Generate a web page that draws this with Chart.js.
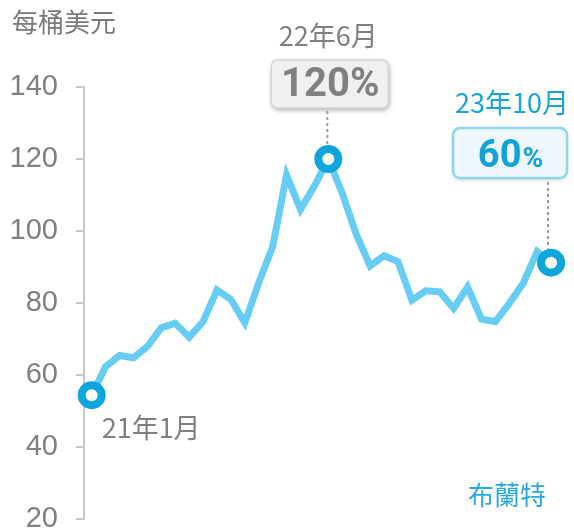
<!DOCTYPE html>
<html>
<head>
<meta charset="utf-8">
<script src="https://cdn.jsdelivr.net/npm/chart.js@4/dist/chart.umd.min.js"></script>
<style>
  html, body { margin: 0; padding: 0; background: #fff; overflow: hidden; }
  #wrap { width: 574px; height: 531px; position: relative; }
  canvas { display: block; }
</style>
</head>
<body>
<div id="wrap"><canvas id="brentChart" width="574" height="531"></canvas></div>
<script>
// Data ----------
var months = ["21年1月","21年2月","21年3月","21年4月","21年5月","21年6月","21年7月","21年8月","21年9月","21年10月","21年11月","21年12月",
              "22年1月","22年2月","22年3月","22年4月","22年5月","22年6月","22年7月","22年8月","22年9月","22年10月","22年11月","22年12月",
              "23年1月","23年2月","23年3月","23年4月","23年5月","23年6月","23年7月","23年8月","23年9月","23年10月"];
var brentPrices = [54.4, 62.3, 65.4, 64.8, 67.9, 73.1, 74.4, 70.5, 74.8, 83.6, 81.0, 74.5,
                   85.6, 95.6, 115.5, 106.0, 112.5, 120.0, 110.5, 99.1, 90.3, 93.1, 91.5, 80.8,
                   83.4, 83.1, 78.5, 84.4, 75.5, 74.8, 79.9, 85.5, 94.3, 91.2];
var yTicks = [20, 40, 60, 80, 100, 120, 140];
var highlightIdx = [0, 17, 33];
var peakText = "120%";
var lastText = "60";

var fontFamily = "'Liberation Sans', 'Noto Sans CJK TC', sans-serif";
var cjkFamily = "'Noto Sans CJK TC', 'Liberation Sans', sans-serif";

var points = brentPrices.map(function (v, i) { return { x: i, y: v }; });

// Annotation plugin ----------
var annotations = {
    id: 'annotations',
    afterDraw: function (chart) {
        var ctx = chart.ctx;
        var xs = chart.scales.x, ys = chart.scales.y;
        var px = function (i) { return xs.getPixelForValue(i); };
        var py = function (i) { return ys.getPixelForValue(brentPrices[i]); };

        ctx.save();
        ctx.textBaseline = 'middle';

        // unit label
        ctx.fillStyle = '#7a7a7a';
        ctx.textAlign = 'left';
        ctx.font = '26px ' + cjkFamily;
        ctx.fillText("每桶美元", 12, 22);

        // first point label
        ctx.fillStyle = '#808080';
        ctx.font = '27px ' + cjkFamily;
        ctx.textAlign = 'left';
        ctx.fillText(months[0], px(0) + 10, py(0) + 33);

        // peak label
        var pxPeak = px(17), pyPeak = py(17);
        ctx.textAlign = 'center';
        ctx.fillText(months[17], pxPeak, 36);

        // peak box
        ctx.save();
        ctx.shadowColor = 'rgba(0,0,0,0.35)';
        ctx.shadowBlur = 5;
        ctx.shadowOffsetX = 1;
        ctx.shadowOffsetY = 2;
        ctx.fillStyle = '#f0f0f0';
        ctx.beginPath();
        ctx.roundRect(pxPeak - 57, 60, 117, 48, 6);
        ctx.fill();
        ctx.restore();
        ctx.strokeStyle = '#d4d4d4';
        ctx.lineWidth = 1.5;
        ctx.beginPath();
        ctx.roundRect(pxPeak - 57, 60, 117, 48, 6);
        ctx.stroke();
        ctx.fillStyle = '#808080';
        ctx.font = 'bold 40px Roboto, ' + fontFamily;
        ctx.fillText(peakText, pxPeak + 2, 86);

        // peak dotted connector
        ctx.strokeStyle = '#9a9a9a';
        ctx.lineWidth = 2;
        ctx.setLineDash([3, 3]);
        ctx.beginPath();
        ctx.moveTo(pxPeak - 1, 111);
        ctx.lineTo(pxPeak - 1, pyPeak - 14);
        ctx.stroke();

        // last point connector
        var pxLast = px(33), pyLast = py(33);
        ctx.beginPath();
        ctx.moveTo(pxLast - 3, 182);
        ctx.lineTo(pxLast - 3, pyLast - 14);
        ctx.stroke();
        ctx.setLineDash([]);

        // last point label
        ctx.fillStyle = '#1aa3db';
        ctx.font = '27px ' + cjkFamily;
        ctx.fillText(months[33], 512, 103);

        // last box
        ctx.save();
        ctx.shadowColor = 'rgba(0,0,0,0.18)';
        ctx.shadowBlur = 4;
        ctx.shadowOffsetY = 2;
        ctx.fillStyle = '#eef8fc';
        ctx.beginPath();
        ctx.roundRect(453, 128, 114, 50, 7);
        ctx.fill();
        ctx.restore();
        ctx.strokeStyle = '#8ed6ef';
        ctx.lineWidth = 2.5;
        ctx.beginPath();
        ctx.roundRect(453, 128, 114, 50, 7);
        ctx.stroke();

        ctx.fillStyle = '#12a2da';
        ctx.textAlign = 'left';
        ctx.font = 'bold 38px Roboto, ' + fontFamily;
        var w60 = ctx.measureText(lastText).width;
        ctx.font = 'bold 28px Roboto, ' + fontFamily;
        var wPct = ctx.measureText('%').width;
        var startX = 510 - (w60 + wPct) / 2;
        ctx.textBaseline = 'alphabetic';
        ctx.font = 'bold 38px Roboto, ' + fontFamily;
        ctx.fillText(lastText, startX, 167);
        ctx.font = 'bold 28px Roboto, ' + fontFamily;
        ctx.fillText('%', startX + w60 + 1, 167);

        // series name
        ctx.textBaseline = 'middle';
        ctx.fillStyle = '#29a8df';
        ctx.textAlign = 'left';
        ctx.font = '26px ' + cjkFamily;
        ctx.fillText("布蘭特", 468, 495);

        ctx.restore();
    }
};

// Chart ----------
var ctx = document.getElementById("brentChart").getContext("2d");

var brentChart = new Chart(ctx, {
    type: 'line',
    data: {
        datasets: [{
            label: "布蘭特",
            data: points,
            borderColor: '#67cdf5',
            borderWidth: 7,
            borderJoinStyle: 'miter',
            tension: 0,
            clip: false,
            pointRadius: function (c) { return highlightIdx.indexOf(c.dataIndex) >= 0 ? 10 : 0; },
            pointHoverRadius: 0,
            pointBorderWidth: 8,
            pointBorderColor: '#0ea5dc',
            pointBackgroundColor: '#ffffff'
        }]
    },
    plugins: [annotations],
    options: {
        responsive: false,
        animation: false,
        layout: { autoPadding: false, padding: { top: 87, bottom: 12, left: 0, right: 9 } },
        plugins: {
            legend: { display: false },
            tooltip: { enabled: false }
        },
        scales: {
            x: {
                type: 'linear',
                min: -0.55,
                max: 34.0,
                display: false
            },
            y: {
                min: 20,
                max: 140,
                afterFit: function (s) {
                    s.width = 84;
                    s.paddingTop = 0;
                    s.paddingBottom = 0;
                },
                afterBuildTicks: function (s) { s.ticks = yTicks.map(function (v) { return { value: v }; }); },
                border: { color: '#c8c8c8', width: 2 },
                grid: { drawOnChartArea: false, tickLength: 8, color: '#c8c8c8', lineWidth: 2 },
                ticks: {
                    padding: 18,
                    color: '#808080',
                    font: { family: fontFamily, size: 29 }
                }
            }
        }
    }
});
</script>
</body>
</html>
